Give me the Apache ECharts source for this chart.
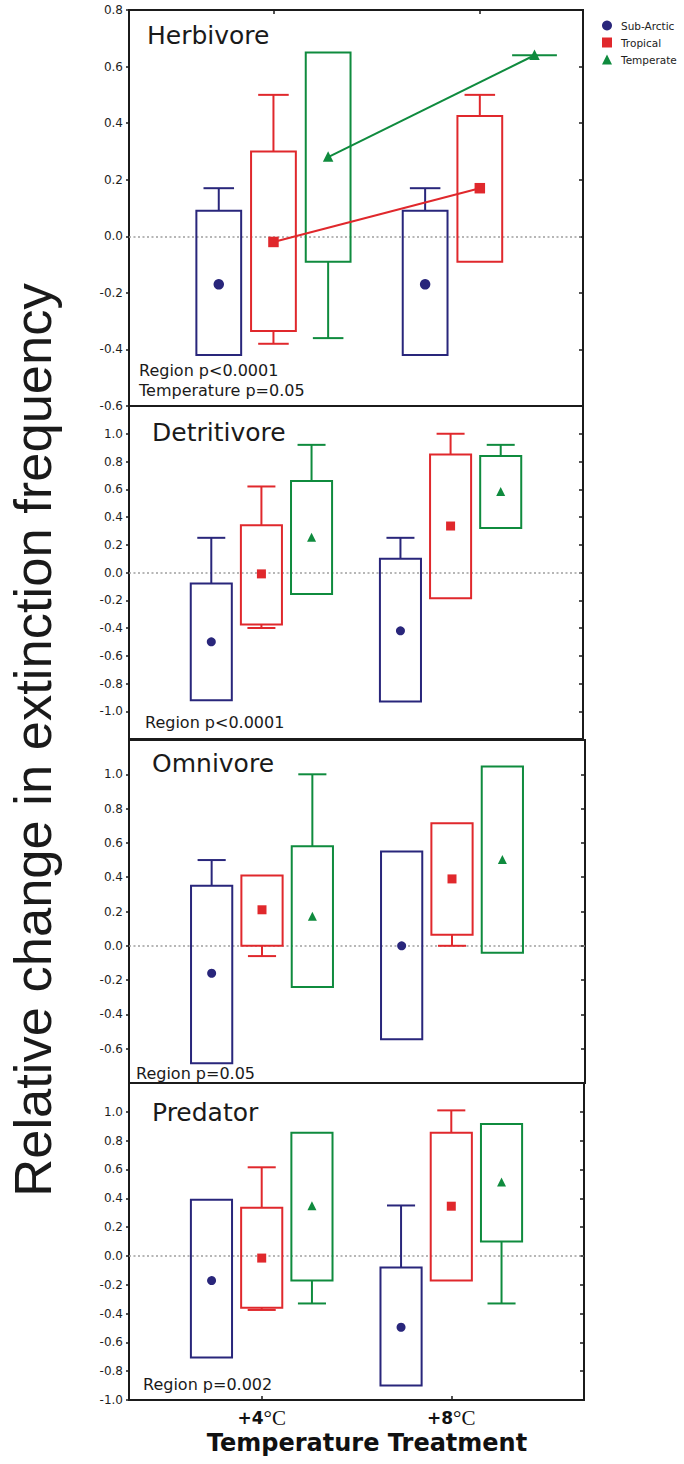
<!DOCTYPE html>
<html>
<head>
<meta charset="utf-8">
<script src="https://cdn.jsdelivr.net/npm/echarts@6/dist/echarts.min.js"></script>
<style>
  html, body { margin: 0; padding: 0; background: #fff; }
  #chart { width: 684px; height: 1464px; }
</style>
</head>
<body>
<div id="chart"></div>
<script>
// ---- data ----------------------------------------------------------------
const treatments = ['+4°C', '+8°C'];
const regions = ['Sub-Arctic', 'Tropical', 'Temperate'];
const guilds = ['Herbivore', 'Detritivore', 'Omnivore', 'Predator'];
const statNotes = ['Region p<0.0001\nTemperature p=0.05', 'Region p<0.0001', 'Region p=0.05', 'Region p=0.002'];

// each row: [whisker low, box low, box high, whisker high, mean] for +4°C then +8°C
const herbivoreSubArctic = [[-0.42, -0.42, 0.09, 0.17, -0.17], [-0.42, -0.42, 0.09, 0.17, -0.17]];
const herbivoreTropical  = [[-0.38, -0.335, 0.30, 0.50, -0.02], [-0.09, -0.09, 0.425, 0.50, 0.17]];
const herbivoreTemperate = [[-0.36, -0.09, 0.65, 0.65, 0.28], [0.64, 0.64, 0.64, 0.64, 0.64]];

const detritivoreSubArctic = [[-0.92, -0.92, -0.08, 0.25, -0.50], [-0.93, -0.93, 0.10, 0.25, -0.42]];
const detritivoreTropical  = [[-0.40, -0.375, 0.34, 0.62, -0.01], [-0.185, -0.185, 0.85, 1.00, 0.335]];
const detritivoreTemperate = [[-0.155, -0.155, 0.66, 0.92, 0.25], [0.32, 0.32, 0.84, 0.92, 0.58]];

const omnivoreSubArctic = [[-0.685, -0.685, 0.35, 0.50, -0.16], [-0.545, -0.545, 0.55, 0.55, 0.0]];
const omnivoreTropical  = [[-0.06, 0.0, 0.41, 0.41, 0.21], [0.0, 0.065, 0.715, 0.715, 0.39]];
const omnivoreTemperate = [[-0.24, -0.24, 0.58, 1.00, 0.17], [-0.04, -0.04, 1.045, 1.045, 0.50]];

const predatorSubArctic = [[-0.705, -0.705, 0.39, 0.39, -0.165], [-0.90, -0.90, -0.08, 0.35, -0.495]];
const predatorTropical  = [[-0.375, -0.36, 0.335, 0.615, -0.015], [-0.17, -0.17, 0.855, 1.01, 0.345]];
const predatorTemperate = [[-0.33, -0.17, 0.855, 0.855, 0.345], [-0.33, 0.10, 0.915, 0.915, 0.51]];

// y-axis tick labels per panel
const ticksHerbivore   = [-0.6, -0.4, -0.2, 0, 0.2, 0.4, 0.6, 0.8];
const ticksDetritivore = [-1, -0.8, -0.6, -0.4, -0.2, 0, 0.2, 0.4, 0.6, 0.8, 1];
const ticksOmnivore    = [-0.6, -0.4, -0.2, 0, 0.2, 0.4, 0.6, 0.8, 1];
const ticksPredator    = [-1, -0.8, -0.6, -0.4, -0.2, 0, 0.2, 0.4, 0.6, 0.8, 1];

// ---- layout & style ------------------------------------------------------
const panelData = [
  [herbivoreSubArctic, herbivoreTropical, herbivoreTemperate],
  [detritivoreSubArctic, detritivoreTropical, detritivoreTemperate],
  [omnivoreSubArctic, omnivoreTropical, omnivoreTemperate],
  [predatorSubArctic, predatorTropical, predatorTemperate]
];
const panelTicks = [ticksHerbivore, ticksDetritivore, ticksOmnivore, ticksPredator];
const panelY = [[-0.6, 0.8], [-1.2, 1.2], [-0.8, 1.2], [-1.0, 1.2]];
const panelX = [[-0.7, 1.5], [-0.7, 1.7], [-0.7, 1.7], [-0.7, 1.7]];
const panelGrid = [
  { left: 129, top: 10, width: 454, height: 396 },
  { left: 129, top: 406, width: 454, height: 333 },
  { left: 129, top: 740, width: 456, height: 343 },
  { left: 129, top: 1083, width: 455, height: 317 }
];
const titlePos = [[147, 35], [152, 432], [152, 763], [152, 1112]];
const notePos = [[139, 360], [145, 712], [136, 1063], [143, 1374]];
const markerSize = [10.5, 9, 9, 9];

const colors = ['#29267b', '#e0282c', '#0f8b3e'];
const markerShapes = ['circle', 'rect', 'triangle'];
const BOX_WIDTH = 0.217;
const CAP_WIDTH = 0.148;
const GROUP_OFFSET = 0.265;
const regionOffsets = [-GROUP_OFFSET, 0, GROUP_OFFSET];

const UI_FONT = 'DejaVu Sans';
const FRAME = '#1b1b1b';

// box, whiskers and mean marker for one region
function makeRenderer(offset, color, shape, size) {
  return function (params, api) {
    const xv = api.value(0) + offset;
    const cx = api.coord([xv, api.value(1)])[0];
    const yWLo = api.coord([xv, api.value(1)])[1];
    const yBLo = api.coord([xv, api.value(2)])[1];
    const yBHi = api.coord([xv, api.value(3)])[1];
    const yWHi = api.coord([xv, api.value(4)])[1];
    const yMean = api.coord([xv, api.value(5)])[1];
    const hb = api.size([BOX_WIDTH, 0])[0] / 2;
    const hc = api.size([CAP_WIDTH, 0])[0] / 2;
    const stroke = { stroke: color, lineWidth: 2, fill: 'none' };
    const kids = [];
    if (yWHi < yBHi - 0.5) {
      kids.push({ type: 'line', shape: { x1: cx, y1: yBHi, x2: cx, y2: yWHi }, style: stroke });
      kids.push({ type: 'line', shape: { x1: cx - hc, y1: yWHi, x2: cx + hc, y2: yWHi }, style: stroke });
    }
    if (yWLo > yBLo + 0.5) {
      kids.push({ type: 'line', shape: { x1: cx, y1: yBLo, x2: cx, y2: yWLo }, style: stroke });
      kids.push({ type: 'line', shape: { x1: cx - hc, y1: yWLo, x2: cx + hc, y2: yWLo }, style: stroke });
    }
    kids.push({
      type: 'polygon',
      shape: { points: [[cx - hb, yBHi], [cx + hb, yBHi], [cx + hb, yBLo], [cx - hb, yBLo]] },
      style: stroke
    });
    const s = size;
    if (shape === 'circle') {
      kids.push({ type: 'circle', shape: { cx: cx, cy: yMean, r: s / 2 }, style: { fill: color } });
    } else if (shape === 'rect') {
      kids.push({ type: 'rect', shape: { x: cx - s / 2, y: yMean - s / 2, width: s, height: s }, style: { fill: color } });
    } else {
      kids.push({
        type: 'polygon',
        shape: { points: [[cx, yMean - s * 0.55], [cx + s / 2, yMean + s * 0.45], [cx - s / 2, yMean + s * 0.45]] },
        style: { fill: color }
      });
    }
    return { type: 'group', children: kids };
  };
}

const grids = [], xAxes = [], yAxes = [], series = [], graphics = [];
const fmt = v => (Math.abs(v) < 1e-9 ? 0 : v).toFixed(1);
const tickLine = { color: FRAME, width: 1.5 };

guilds.forEach((g, p) => {
  grids.push(Object.assign({ show: true, borderColor: FRAME, borderWidth: 2, backgroundColor: 'transparent' }, panelGrid[p]));

  const isBottom = p === guilds.length - 1;
  xAxes.push({
    type: 'value', gridIndex: p, min: panelX[p][0], max: panelX[p][1], position: 'bottom',
    axisLine: { show: false, onZero: false }, splitLine: { show: false },
    axisTick: { show: isBottom, customValues: [0, 1], inside: true, length: 4, lineStyle: tickLine },
    axisLabel: {
      show: isBottom, customValues: [0, 1], margin: 10,
      formatter: v => { const t = treatments[Math.round(v)]; return '{n|' + t.slice(0, -2) + '}{u|' + t.slice(-2) + '}'; },
      rich: {
        n: { fontFamily: UI_FONT, fontWeight: 'bold', fontSize: 17, lineHeight: 16, color: '#111' },
        u: { fontFamily: 'Liberation Serif', fontSize: 21, lineHeight: 16, color: '#111' }
      }
    }
  });
  yAxes.push({
    type: 'value', gridIndex: p, min: panelY[p][0], max: panelY[p][1], position: 'left',
    axisLine: { show: false, onZero: false }, splitLine: { show: false },
    axisTick: { show: true, customValues: panelTicks[p], length: 3, lineStyle: tickLine },
    axisLabel: {
      customValues: panelTicks[p], formatter: fmt, margin: 6, showMinLabel: true, showMaxLabel: true,
      fontFamily: UI_FONT, fontSize: 12, color: '#1e1e1e'
    }
  });
});
// inward ticks on the right edge of each panel
guilds.forEach((g, p) => {
  yAxes.push({
    type: 'value', gridIndex: p, min: panelY[p][0], max: panelY[p][1], position: 'right',
    axisLine: { show: false, onZero: false }, splitLine: { show: false }, axisLabel: { show: false },
    axisTick: { show: true, inside: true, customValues: panelTicks[p], length: 4, lineStyle: tickLine }
  });
});
// treatment ticks along the top edge of the first panel
xAxes.push({
  type: 'value', gridIndex: 0, min: panelX[0][0], max: panelX[0][1], position: 'top',
  axisLine: { show: false, onZero: false }, splitLine: { show: false }, axisLabel: { show: false },
  axisTick: { show: true, inside: true, customValues: [0, 1], length: 4, lineStyle: tickLine }
});

guilds.forEach((g, p) => {
  regions.forEach((r, k) => {
    const s = {
      type: 'custom', name: r, xAxisIndex: p, yAxisIndex: p,
      itemStyle: { color: colors[k] },
      encode: { x: 0, y: [1, 2, 3, 4, 5] },
      data: panelData[p][k].map((row, i) => [i].concat(row)),
      renderItem: makeRenderer(regionOffsets[k], colors[k], markerShapes[k], markerSize[p]),
      z: 3
    };
    if (k === 0) {
      s.markLine = {
        silent: true, symbol: ['none', 'none'], label: { show: false }, z: 1,
        lineStyle: { color: '#9e9e9e', type: [2, 2.5], width: 1.6 },
        data: [{ yAxis: 0 }]
      };
    }
    series.push(s);
  });

  graphics.push({
    type: 'text', x: titlePos[p][0], y: titlePos[p][1],
    style: { text: g, font: '25px "' + UI_FONT + '"', fill: '#1a1a1a', align: 'left', textAlign: 'left', verticalAlign: 'middle', textVerticalAlign: 'middle' }
  });
  graphics.push({
    type: 'text', x: notePos[p][0], y: notePos[p][1],
    style: {
      text: statNotes[p], font: '16px "' + UI_FONT + '"', fill: '#1a1a1a', lineHeight: 20,
      align: 'left', textAlign: 'left', verticalAlign: 'top', textVerticalAlign: 'top'
    }
  });
});

// herbivore: link the means of the two warming levels
[1, 2].forEach(k => {
  series.push({
    type: 'line', name: regions[k], xAxisIndex: 0, yAxisIndex: 0, z: 4,
    showSymbol: false, symbol: 'none', silent: true,
    lineStyle: { color: colors[k], width: 2 },
    data: panelData[0][k].map((row, i) => [i + regionOffsets[k], row[4]])
  });
});

graphics.push({
  type: 'text', x: 32, y: 740, rotation: Math.PI / 2,
  style: {
    text: 'Relative change in extinction frequency', font: '52.5px "Liberation Sans"', fill: '#1a1a1a',
    align: 'center', textAlign: 'center', verticalAlign: 'middle', textVerticalAlign: 'middle'
  }
});
graphics.push({
  type: 'text', x: 367, y: 1443,
  style: {
    text: 'Temperature Treatment', font: 'bold 24px "' + UI_FONT + '"', fill: '#111',
    align: 'center', textAlign: 'center', verticalAlign: 'middle', textVerticalAlign: 'middle'
  }
});

const chart = echarts.init(document.getElementById('chart'), null, { renderer: 'svg' });
chart.setOption({
  animation: false,
  backgroundColor: '#fff',
  grid: grids,
  xAxis: xAxes,
  yAxis: yAxes,
  legend: {
    orient: 'vertical', left: 602, top: 20, padding: 0, itemWidth: 10, itemHeight: 10, itemGap: 6,
    selectedMode: false,
    textStyle: { fontFamily: UI_FONT, fontSize: 10.5, color: '#222', lineHeight: 11, padding: [0, 0, 0, 4] },
    data: regions.map((r, k) => ({ name: r, icon: markerShapes[k] }))
  },
  graphic: graphics,
  series: series
});
</script>
</body>
</html>
